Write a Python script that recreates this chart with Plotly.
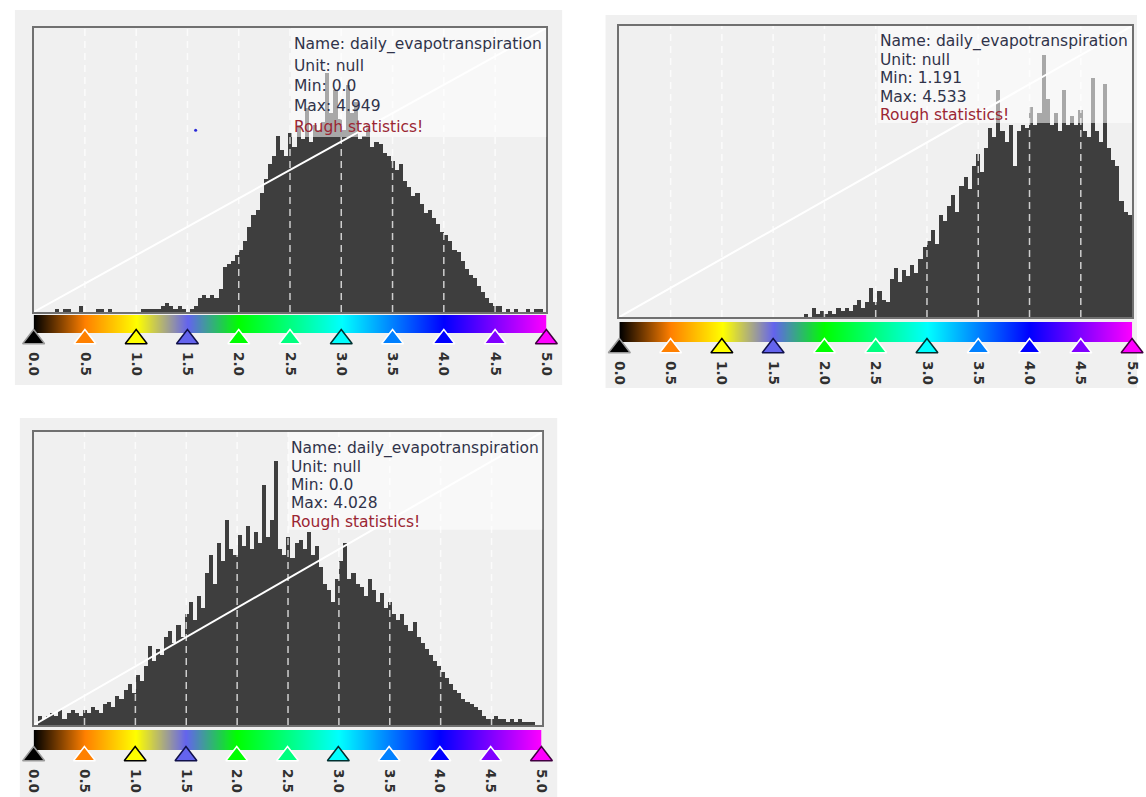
import numpy as np
import plotly.graph_objects as go

W, H = 1146, 797
X_MIN, X_MAX = 0.0, 5.0
BIN_WIDTH = 0.04
Y_MAX = 100

# histogram bar heights (percent of frame height), 125 bins of 0.04 over 0..5
hist1 = [0, 0, 0, 0, 0, 1, 0, 1, 1, 0, 0, 2, 0, 0, 0, 1, 1, 0, 1, 0,
         0, 0, 0, 0, 0, 0, 1, 1, 1, 1, 1, 2, 3, 2, 1, 2, 1, 0, 1, 2,
         5, 6, 5, 6, 5, 8, 16, 17, 18, 20, 22, 25, 30, 34, 36, 42, 47, 52, 55, 62,
         57, 55, 63, 58, 66, 61, 72, 60, 66, 64, 67, 84, 70, 78, 68, 64, 80, 70, 74, 61,
         62, 66, 58, 60, 59, 56, 55, 53, 50, 52, 46, 44, 41, 42, 38, 35, 36, 33, 31, 28,
         27, 25, 22, 21, 18, 15, 13, 12, 9, 7, 5, 3, 2, 2, 0, 1, 0, 1, 0, 0,
         1, 0, 1, 1, 0]
hist2 = [0] * 45 + [1, 0, 3, 1, 2, 1, 2, 1, 3, 2, 3, 2, 4, 6, 3,
         5, 10, 5, 9, 6, 5, 13, 17, 12, 16, 14, 18, 15, 20, 24, 26, 30, 25, 35, 33,
         38, 42, 36, 45, 48, 44, 52, 56, 50, 58, 65, 62, 78, 64, 60, 66, 52, 64, 66, 65,
         72, 66, 70, 90, 75, 66, 70, 64, 78, 66, 69, 66, 71, 64, 62, 82, 64, 60, 80, 58,
         54, 52, 40, 36, 35]
hist3 = [0, 3, 2, 3, 4, 3, 5, 2, 4, 5, 4, 3, 5, 4, 6, 5, 4, 7, 8, 6,
         10, 9, 12, 14, 11, 17, 15, 20, 27, 22, 26, 24, 30, 32, 28, 34, 30, 38, 42, 36,
         44, 40, 52, 58, 48, 62, 56, 70, 60, 58, 65, 61, 68, 60, 66, 62, 82, 64, 70, 90,
         60, 58, 64, 57, 62, 63, 60, 66, 58, 61, 54, 48, 46, 42, 50, 56, 62, 50, 52, 48,
         47, 44, 50, 46, 42, 45, 40, 42, 38, 36, 38, 34, 32, 35, 30, 28, 26, 24, 22, 20,
         18, 16, 14, 12, 11, 9, 8, 7, 6, 5, 3, 2, 2, 3, 2, 2, 1, 2, 1, 2,
         1, 1, 1, 0, 0]

stop_values = [0.0, 0.5, 1.0, 1.5, 2.0, 2.5, 3.0, 3.5, 4.0, 4.5, 5.0]
stop_labels = ["0.0", "0.5", "1.0", "1.5", "2.0", "2.5", "3.0", "3.5", "4.0", "4.5", "5.0"]
stop_colors = ["#000000", "#ff8000", "#ffff00", "#6464ee", "#00ff00", "#00ff80",
               "#00ffff", "#0080ff", "#0000ff", "#8000ff", "#ff00ff"]
stop_outline = ["#9a9a9a", "#ffffff", "#000000", "#10104a", "#ffffff", "#ffffff",
                "#003030", "#ffffff", "#ffffff", "#ffffff", "#400040"]
grid_values = [0.5, 1.0, 1.5, 2.0, 2.5, 3.0, 3.5, 4.0, 4.5]

band_names = ["daily_evapotranspiration"] * 3
band_units = ["null", "null", "null"]
band_mins = ["0.0", "1.191", "0.0"]
band_maxs = ["4.949", "4.533", "4.028"]

dot_x = [1.58]
dot_y = [64]

hists = [hist1, hist2, hist3]

# pixel layout of each panel
panels = [
    dict(bg=(8, 10, 563, 385), frame=(27, 28, 547, 312), cbar=(27, 315, 547, 333),
         box=(2.51, 0.616), tx=289, ty=[45, 66, 86, 106, 127]),
    dict(bg=(607, 15, 1146, 388), frame=(621, 26, 1141, 317), cbar=(621, 322, 1141, 342),
         box=(2.52, 0.667), tx=883, ty=[42, 60, 78, 97, 115]),
    dict(bg=(13, 418, 558, 797), frame=(27, 432, 543, 725), cbar=(27, 730, 542, 750),
         box=(2.50, 0.666), tx=286, ty=[448, 467, 485, 503, 522]),
]
TRI_EXT = 16  # px below colour bar reserved for the triangle markers


def fx(px):
    return px / W


def fy(py):
    return 1 - py / H


centers = np.arange(len(hist1)) * BIN_WIDTH + BIN_WIDTH / 2
colorscale = [[v / X_MAX, c] for v, c in zip(stop_values, stop_colors)]

fig = go.Figure()
layout = dict(width=W, height=H, autosize=False, margin=dict(l=0, r=0, t=0, b=0, pad=0),
              paper_bgcolor="#ffffff", plot_bgcolor="#f0f0f0",
              showlegend=False, bargap=0, hovermode=False)
shapes = []
annotations = []

for i, (p, hist) in enumerate(zip(panels, hists)):
    hi = 2 * i + 1
    ci = 2 * i + 2
    hx = "x" if hi == 1 else f"x{hi}"
    hy = "y" if hi == 1 else f"y{hi}"
    cx, cy = f"x{ci}", f"y{ci}"
    hxa = "xaxis" if hi == 1 else f"xaxis{hi}"
    hya = "yaxis" if hi == 1 else f"yaxis{hi}"
    cxa, cya = f"xaxis{ci}", f"yaxis{ci}"

    l, t, r, b = p["frame"]
    frame_axis = dict(showline=True, mirror=True, linecolor="#707070", linewidth=2,
                      showgrid=False, zeroline=False, showticklabels=False, ticks="")
    layout[hxa] = dict(domain=[fx(l), fx(r)], range=[X_MIN, X_MAX], anchor=hy, **frame_axis)
    layout[hya] = dict(domain=[fy(b), fy(t)], range=[0, Y_MAX], anchor=hx, **frame_axis)

    cl, ct, cr, cb = p["cbar"]
    ch = cb - ct
    y_lo = -TRI_EXT / ch
    layout[cxa] = dict(domain=[fx(cl), fx(cr)], range=[X_MIN, X_MAX], anchor=cy,
                       showline=False, showgrid=False, zeroline=False, ticks="",
                       tickmode="array", tickvals=stop_values, ticktext=stop_labels,
                       tickangle=90, ticklabelstandoff=2, ticklabeloverflow="allow",
                       tickfont=dict(family="DejaVu Sans", size=13.5, color="#303030",
                                     weight="bold"))
    layout[cya] = dict(domain=[fy(cb + TRI_EXT), fy(ct)], range=[y_lo, 1], anchor=cx,
                       showline=False, showgrid=False, zeroline=False,
                       showticklabels=False, ticks="")

    # histogram bars
    fig.add_trace(go.Bar(x=centers, y=hist, width=BIN_WIDTH, xaxis=hx, yaxis=hy,
                         marker=dict(color="#3e3e3e", line=dict(width=0))))
    # colour mapping line
    fig.add_trace(go.Scatter(x=[X_MIN, X_MAX], y=[0, Y_MAX], mode="lines",
                             xaxis=hx, yaxis=hy, line=dict(color="#ffffff", width=2)))
    if i == 0:
        fig.add_trace(go.Scatter(x=dot_x, y=dot_y, mode="markers", xaxis=hx, yaxis=hy,
                                 marker=dict(size=3, color="#2a2ad8")))

    # colour bar
    fig.add_trace(go.Heatmap(x=stop_values, y=[0.25, 0.75], z=[stop_values, stop_values],
                             zmin=X_MIN, zmax=X_MAX, colorscale=colorscale,
                             zsmooth="best", showscale=False, xaxis=cx, yaxis=cy))
    fig.add_trace(go.Scatter(x=stop_values, y=[-6.0 / ch] * len(stop_values), mode="markers",
                             xaxis=cx, yaxis=cy, cliponaxis=False,
                             marker=dict(symbol="triangle-up", size=19, color=stop_colors,
                                         line=dict(color=stop_outline, width=1.5))))

    # panel background
    bl, bt, br, bb = p["bg"]
    shapes.append(dict(type="rect", xref="paper", yref="paper", x0=fx(bl), x1=fx(br),
                       y0=fy(bb), y1=fy(bt), fillcolor="#f0f0f0",
                       line=dict(width=0), layer="below"))
    # dashed grid
    for g in grid_values:
        shapes.append(dict(type="line", xref=hx, yref=f"{hy} domain", x0=g, x1=g,
                           y0=0, y1=1, layer="above",
                           line=dict(color="rgba(255,255,255,0.75)", width=1.5,
                                     dash="7px,5px")))
    # info box overlay
    bx, by = p["box"]
    shapes.append(dict(type="rect", xref=hx, yref=f"{hy} domain", x0=bx, x1=X_MAX,
                       y0=by, y1=1, fillcolor="rgba(255,255,255,0.55)",
                       line=dict(width=0), layer="above"))
    lines = [f"Name: {band_names[i]}", f"Unit: {band_units[i]}",
             f"Min: {band_mins[i]}", f"Max: {band_maxs[i]}", "Rough statistics!"]
    for k, (txt, ty) in enumerate(zip(lines, p["ty"])):
        annotations.append(dict(text=txt, xref="paper", yref="paper", x=fx(p["tx"]),
                                y=fy(ty), xanchor="left", yanchor="middle",
                                showarrow=False,
                                font=dict(family="DejaVu Sans", size=15.5,
                                          color="#9b2633" if k == 4 else "#30334a")))

layout["shapes"] = shapes
layout["annotations"] = annotations
fig.update_layout(**layout)
fig.write_html("out.html", config={"displayModeBar": False, "responsive": False},
               post_script="document.body.style.margin='0px';document.body.style.overflow='hidden';")
